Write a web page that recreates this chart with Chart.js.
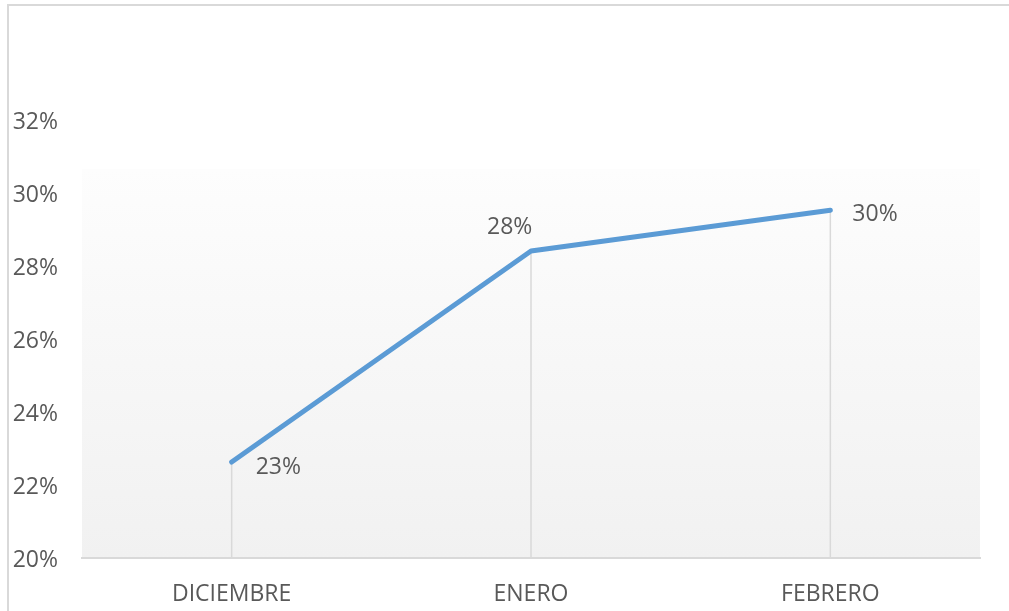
<!DOCTYPE html>
<html>
<head>
<meta charset="utf-8">
<script src="https://cdn.jsdelivr.net/npm/chart.js@4/dist/chart.umd.min.js"></script>
<style>
  html, body { margin: 0; padding: 0; background: #fff; }
  #wrap { position: relative; width: 1009px; height: 611px; overflow: hidden; }
  #frame { position: absolute; left: 7px; top: 4px; width: 1010px; height: 620px;
           border-left: 2px solid #d9d9d9; border-top: 2px solid #d9d9d9; box-sizing: border-box; }
  canvas { position: absolute; left: 0; top: 0; }
</style>
</head>
<body>
<div id="wrap">
  <div id="frame"></div>
  <canvas id="c" width="1009" height="611"></canvas>
</div>
<script>
const categories = ['DICIEMBRE', 'ENERO', 'FEBRERO'];
const values = [22.63, 28.41, 29.53];
const dataLabels = ['23%', '28%', '30%'];
const yMin = 20, yMax = 32, yStep = 2;

const FONT = "'Open Sans', sans-serif";
const FSIZE = 23;
const TEXT = '#595959';

const bgPlugin = {
  id: 'bg',
  beforeDraw(chart) {
    const { ctx, chartArea: a } = chart;
    const top = a.top + (a.bottom - a.top) * 0.112;
    const g = ctx.createLinearGradient(0, top, 0, a.bottom);
    g.addColorStop(0, '#fdfdfd');
    g.addColorStop(1, '#f1f1f1');
    ctx.save();
    ctx.fillStyle = g;
    ctx.fillRect(a.left, top, a.right - a.left, a.bottom - top);
    ctx.restore();
  }
};

const dropPlugin = {
  id: 'drops',
  beforeDatasetsDraw(chart) {
    const { ctx, chartArea: a } = chart;
    const meta = chart.getDatasetMeta(0);
    ctx.save();
    ctx.strokeStyle = '#d9d9d9';
    ctx.lineWidth = 1.5;
    meta.data.forEach(p => {
      ctx.beginPath();
      ctx.moveTo(p.x, p.y);
      ctx.lineTo(p.x, a.bottom);
      ctx.stroke();
    });
    ctx.restore();
  },
  afterDatasetsDraw(chart) {
    const { ctx } = chart;
    const meta = chart.getDatasetMeta(0);
    const offs = [[24, 5, 'left'], [-44, -24, 'left'], [22, 4, 'left']];
    ctx.save();
    ctx.font = FSIZE + 'px ' + FONT;
    ctx.fillStyle = TEXT;
    ctx.textBaseline = 'middle';
    meta.data.forEach((p, i) => {
      ctx.textAlign = offs[i][2];
      ctx.fillText(dataLabels[i], p.x + offs[i][0], p.y + offs[i][1]);
    });
    ctx.restore();
  }
};

new Chart(document.getElementById('c'), {
  type: 'line',
  data: {
    labels: categories,
    datasets: [{
      data: values,
      borderColor: '#5b9bd5',
      borderWidth: 5,
      pointRadius: 0,
      tension: 0,
      fill: false,
      borderCapStyle: 'round',
      borderJoinStyle: 'round'
    }]
  },
  options: {
    responsive: false,
    animation: false,
    devicePixelRatio: 1,
    layout: { padding: { top: 120, right: 29, bottom: 0, left: 0 } },
    plugins: { legend: { display: false }, tooltip: { enabled: false } },
    scales: {
      x: {
        offset: true,
        grid: { display: false, drawTicks: false },
        border: { display: true, color: '#d9d9d9', width: 2 },
        ticks: { color: TEXT, font: { family: FONT, size: FSIZE }, padding: 23 },
        afterFit(s) { s.height = 53; }
      },
      y: {
        min: yMin, max: yMax,
        grid: { display: false, drawTicks: false },
        border: { display: false },
        ticks: {
          stepSize: yStep,
          color: TEXT,
          font: { family: FONT, size: FSIZE },
          padding: 24,
          labelOffset: 2,
          callback: v => v + '%'
        },
        afterFit(s) { s.width = 82; }
      }
    }
  },
  plugins: [bgPlugin, dropPlugin]
});
</script>
</body>
</html>
